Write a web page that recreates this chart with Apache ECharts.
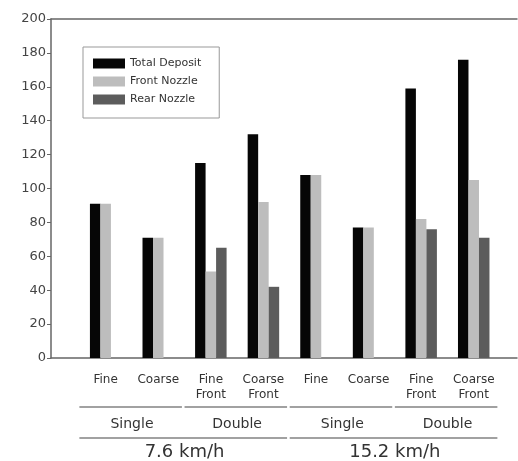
<!DOCTYPE html>
<html>
<head>
<meta charset="utf-8">
<script src="https://cdn.jsdelivr.net/npm/echarts@6/dist/echarts.min.js"></script>
<style>
html,body{margin:0;padding:0;background:#fff;}
#chart{width:518px;height:461px;}
</style>
</head>
<body>
<div id="chart"></div>
<script>
// ---- data ----
var categories = ['Fine', 'Coarse', 'Fine\nFront', 'Coarse\nFront', 'Fine', 'Coarse', 'Fine\nFront', 'Coarse\nFront'];
var totalDeposit = [91, 71, 115, 132, 108, 77, 159, 176];
var frontNozzle  = [91, 71, 51, 92, 108, 77, 82, 105];
var rearNozzle   = [null, null, 65, 42, null, null, 76, 71];
var yTicks = [0, 20, 40, 60, 80, 100, 120, 140, 160, 180, 200];
// group brackets under the axis: [first category index, last category index, level]
var nozzleGroups = [[0, 1, 0], [2, 3, 0], [4, 5, 0], [6, 7, 0]];
var nozzleLabels = ['Single', 'Double', 'Single', 'Double'];
var speedGroups = [[0, 3, 1], [4, 7, 1]];
var speedLabels = ['7.6 km/h', '15.2 km/h'];
var seriesNames = ['Total Deposit', 'Front Nozzle', 'Rear Nozzle'];

var idx = categories.map(function (c, i) { return i; });
function pairs(arr) { return arr.map(function (v, i) { return [i, v == null ? '-' : v]; }); }

var groupData = nozzleGroups.concat(speedGroups);
var groupLabels = nozzleLabels.concat(speedLabels);

var chart = echarts.init(document.getElementById('chart'));
var FONT = '"DejaVu Sans", Verdana, sans-serif';
var AXIS_COLOR = '#666';

var option = {
  animation: false,
  backgroundColor: '#fff',
  grid: { left: 51, right: 1, top: 19, bottom: 103 },
  legend: {
    data: seriesNames,
    orient: 'vertical',
    left: 83, top: 47,
    padding: [11, 18, 13, 10],
    icon: 'rect',
    itemWidth: 32, itemHeight: 10, itemGap: 7,
    borderColor: '#999', borderWidth: 1,
    textStyle: { fontFamily: FONT, fontSize: 11, color: '#333', lineHeight: 10 }
  },
  xAxis: [{
    type: 'value',
    position: 'bottom',
    min: -1.04, max: 7.823,
    splitLine: { show: false },
    axisLine: { show: true, onZero: false, lineStyle: { color: AXIS_COLOR, width: 1.5 } },
    axisTick: { show: false },
    axisLabel: {
      customValues: idx,
      formatter: function (v) { return categories[Math.round(v)] || ''; },
      margin: 14,
      fontFamily: FONT, fontSize: 12, lineHeight: 15, color: '#333'
    }
  }, {
    type: 'value',
    position: 'top',
    min: -1.04, max: 7.823,
    splitLine: { show: false },
    axisLine: { show: true, onZero: false, lineStyle: { color: AXIS_COLOR, width: 1.5 } },
    axisTick: { show: false },
    axisLabel: { show: false }
  }],
  yAxis: {
    type: 'value',
    position: 'left',
    min: 0, max: 200, interval: 20,
    splitLine: { show: false },
    axisLine: { show: true, onZero: false, lineStyle: { color: AXIS_COLOR, width: 1.5 } },
    axisTick: { show: true, inside: false, length: 4, lineStyle: { color: AXIS_COLOR } },
    axisLabel: {
      margin: 5,
      fontFamily: FONT, fontSize: 13, color: '#444',
      formatter: function (v) { return yTicks.indexOf(v) >= 0 ? String(v) : ''; }
    }
  },
  series: [{
    name: seriesNames[0], type: 'bar', xAxisIndex: 0,
    barWidth: 10.5, barGap: '0%',
    itemStyle: { color: '#060606' },
    data: pairs(totalDeposit)
  }, {
    name: seriesNames[1], type: 'bar', xAxisIndex: 0,
    barWidth: 10.5, barGap: '0%',
    itemStyle: { color: '#bdbdbd' },
    data: pairs(frontNozzle)
  }, {
    name: seriesNames[2], type: 'bar', xAxisIndex: 0,
    barWidth: 10.5, barGap: '0%',
    itemStyle: { color: '#5c5c5c' },
    data: pairs(rearNozzle)
  }, {
    type: 'custom',
    xAxisIndex: 0,
    silent: true,
    clip: false,
    legendHoverLink: false,
    encode: { x: [0, 1], y: 2 },
    data: groupData,
    renderItem: function (params, api) {
      var s = api.value(0), e = api.value(1), level = api.value(2);
      var base = api.coord([s, 0])[1];
      var x1 = api.coord([s - 0.5, 0])[0];
      var x2 = api.coord([e + 0.45, 0])[0];
      var xm = (api.coord([s, 0])[0] + api.coord([e, 0])[0]) / 2;
      var lineY = level === 0 ? base + 49 : base + 80;
      var textY = level === 0 ? base + 66 : base + 94;
      var fontSize = level === 0 ? 14 : 18;
      return {
        type: 'group',
        children: [{
          type: 'line',
          shape: { x1: x1, y1: lineY, x2: x2, y2: lineY },
          style: { stroke: '#444', lineWidth: 1.2 }
        }, {
          type: 'text',
          style: {
            text: groupLabels[params.dataIndex],
            x: xm, y: textY,
            align: 'center', verticalAlign: 'middle',
            font: fontSize + 'px ' + FONT,
            fill: '#333'
          }
        }]
      };
    }
  }]
};
chart.setOption(option);
</script>
</body>
</html>
